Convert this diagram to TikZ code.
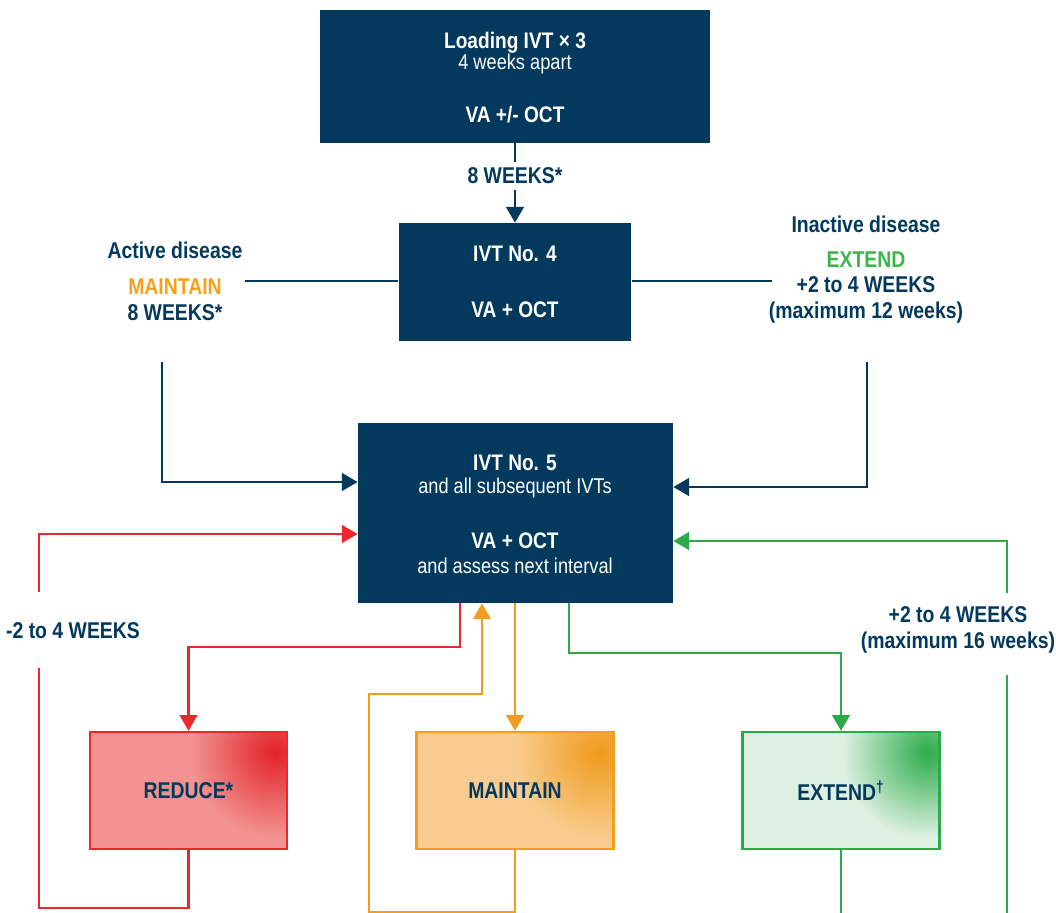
\documentclass[tikz,border=0pt]{standalone}
\usepackage{fontspec}
\setmainfont{Liberation Sans}[FakeStretch=0.85]
\usetikzlibrary{arrows.meta}
\definecolor{navy}{HTML}{03395C}
\definecolor{redln}{HTML}{E8282C}
\definecolor{redfill}{HTML}{F29391}
\definecolor{redhot}{HTML}{E2232A}
\definecolor{orangeln}{HTML}{F39C1E}
\definecolor{orangefill}{HTML}{F8CC8E}
\definecolor{orangehot}{HTML}{F09A1C}
\definecolor{orangetxt}{HTML}{F7A11A}
\definecolor{greenln}{HTML}{2BAA4A}
\definecolor{greenfill}{HTML}{DDF0E1}
\definecolor{greenhot}{HTML}{2DAB4B}
\definecolor{greentxt}{HTML}{3DB54A}
\begin{document}
\begin{tikzpicture}[x=0.02cm,y=-0.02cm,
  navybox/.style={fill=navy, draw=none, inner sep=0pt},
  lbl/.style={text=navy, font=\bfseries\fontsize{13}{14.7}\selectfont, align=center},
  wtitle/.style={text=white, font=\bfseries\fontsize{12.8}{14.7}\selectfont},
  wsub/.style={text=white, font=\fontsize{12.2}{14}\selectfont},
  btxt/.style={text=navy, font=\bfseries\fontsize{13}{14.7}\selectfont},
  arr/.style={-{Triangle[width=10pt,length=9pt]}},
  navyline/.style={draw=navy, line width=1.6pt},
  redline/.style={draw=redln, line width=1.5pt},
  orangeline/.style={draw=orangeln, line width=1.5pt},
  greenline/.style={draw=greenln, line width=1.5pt},
  smallbox/.style={inner sep=0pt, minimum width=3.94cm, minimum height=2.34cm, line width=1.3pt}
]
\useasboundingbox (0,0) rectangle (1056,913);

% ---------- navy boxes ----------
\node[navybox, minimum width=7.82cm, minimum height=2.66cm] (top) at (515,76.5) {};
\node[wtitle] (topt1) at (515,43) {Loading IVT × 3};
\node[wsub] (topt2) at (515,64) {4 weeks apart};
\node[wtitle] (topt3) at (515,115) {VA +/- OCT};

\node[navybox, minimum width=4.66cm, minimum height=2.36cm] (ivt4) at (515,282) {};
\node[wtitle] (ivt4t1) at (515,254) {IVT No. 4};
\node[wtitle] (ivt4t2) at (515,310) {VA + OCT};

\node[navybox, minimum width=6.3cm, minimum height=3.6cm] (ivt5) at (515.5,513) {};
\node[wtitle] (ivt5t1) at (515,463) {IVT No. 5};
\node[wsub] (ivt5t2) at (515,488) {and all subsequent IVTs};
\node[wtitle] (ivt5t3) at (515,541) {VA + OCT};
\node[wsub] (ivt5t4) at (515,566) {and assess next interval};

% ---------- coloured boxes ----------
\begin{scope}
  \clip (90,732) rectangle (287,849);
  \fill[redfill] (90,732) rectangle (287,849);
  \shade[inner color=redhot, outer color=redfill] (275,752) circle (85);
\end{scope}
\node[smallbox, draw=redln] (reduce) at (188.5,790.5) {};
\node[btxt] (reducet) at (188.5,791) {REDUCE*};

\begin{scope}
  \clip (417,732) rectangle (613,849);
  \fill[orangefill] (417,732) rectangle (613,849);
  \shade[inner color=orangehot, outer color=orangefill] (600,753) circle (85);
\end{scope}
\node[smallbox, draw=orangeln] (maintain) at (515,790.5) {};
\node[btxt] (maintaint) at (515,791) {MAINTAIN};

\begin{scope}
  \clip (743,732) rectangle (939,849);
  \fill[greenfill] (743,732) rectangle (939,849);
  \shade[inner color=greenhot, outer color=greenfill] (927,753) circle (85);
\end{scope}
\node[smallbox, draw=greenln] (extend) at (841,790.5) {};
\node[btxt] (extendt) at (841,791) {EXTEND\textsuperscript{†}};

% ---------- side labels ----------
\node[lbl] (act) at (175,250) {Active disease};
\node[lbl] (actm) at (175,300) {\textcolor{orangetxt}{MAINTAIN}\\8 WEEKS*};
\node[lbl] (inact) at (866,224) {Inactive disease};
\node[lbl] (inactm) at (866,287.5) {\textcolor{greentxt}{EXTEND}\\+2 to 4 WEEKS\\(maximum 12 weeks)};

% ---------- coordinates ----------
\coordinate (aL) at (245,281);
\coordinate (aR) at (772,281);
\coordinate (vL) at (162,362);
\coordinate (vR) at (867,362);
\coordinate (y482) at (0,482);
\coordinate (y487) at (0,487);
\coordinate (y534) at (0,534);
\coordinate (y541) at (0,541);
\coordinate (rb) at (0,908);
\coordinate (r1) at (460,647);
\coordinate (rTop) at (39,668);
\coordinate (rUp) at (39,592);
\coordinate (ob) at (0,912);
\coordinate (o2) at (369,694);
\coordinate (o3) at (482,0);
\coordinate (g1) at (569,653);
\coordinate (gb) at (0,913);
\coordinate (gR1) at (1007,913);
\coordinate (gR2) at (1007,675);
\coordinate (gR3) at (1007,593);

% ---------- navy connectors ----------
\node[lbl] (w8) at (515,176) {8 WEEKS*};
\draw[navyline] (top.south) -- (w8.north);
\draw[navyline,arr] (w8.south) -- (ivt4.north);
\draw[navyline] (aL) -- (aL -| ivt4.west);
\draw[navyline] (aR -| ivt4.east) -- (aR);
\draw[navyline,arr] (vL) |- (ivt5.west |- y482);
\draw[navyline,arr] (vR) |- (ivt5.east |- y487);

% ---------- red ----------
\node[lbl] (rl) at (73,631) {-2 to 4 WEEKS};
\draw[redline,arr] (ivt5.south -| r1) -- (r1) -| (reduce.north);
\draw[redline] (reduce.south) -- (reduce.south |- rb) -| (rTop);
\draw[redline,arr] (rUp) |- (ivt5.west |- y534);

% ---------- orange ----------
\draw[orangeline,arr] (ivt5.south -| maintain.north) -- (maintain.north);
\draw[orangeline,arr] (maintain.south) -- (maintain.south |- ob) -| (o2) -| (ivt5.south -| o3);

% ---------- green ----------
\node[lbl] (gl) at (958,630) {+2 to 4 WEEKS\\(maximum 16 weeks)};
\draw[greenline,arr] (ivt5.south -| g1) -- (g1) -| (extend.north);
\draw[greenline] (extend.south) -- (extend.south |- gb);
\draw[greenline] (gR1) -- (gR2);
\draw[greenline,arr] (gR3) |- (ivt5.east |- y541);
\end{tikzpicture}
\end{document}
